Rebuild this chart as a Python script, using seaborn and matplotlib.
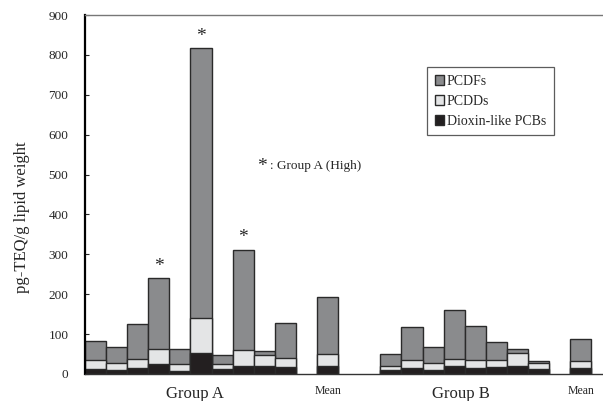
import numpy as np
import pandas as pd
import matplotlib.pyplot as plt
import seaborn as sns
from matplotlib.patches import Patch

# slot positions on the x axis (gaps between groups are empty slots)
positions = [0, 1, 2, 3, 4, 5, 6, 7, 8, 9, 11, 14, 15, 16, 17, 18, 19, 20, 21, 23]

# pg-TEQ/g lipid weight
pcbs = [12, 10, 14, 25, 7, 53, 12, 20, 20, 18, 20,
        9, 14, 9, 20, 16, 17, 21, 12, 14]
pcdds = [23, 17, 23, 38, 18, 87, 12, 39, 27, 23, 30,
         10, 21, 19, 18, 19, 18, 31, 16, 18]
pcdfs = [48, 41, 88, 177, 38, 678, 23, 253, 11, 87, 144,
         31, 82, 40, 122, 85, 44, 10, 5, 55]

high_bars = [3, 5, 7]  # Group A (High), marked with *

df = pd.DataFrame({"pos": positions, "PCBs": pcbs, "PCDDs": pcdds, "PCDFs": pcdfs})
df["lvl1"] = df["PCBs"]
df["lvl2"] = df["PCBs"] + df["PCDDs"]
df["lvl3"] = df["lvl2"] + df["PCDFs"]

sns.set_style("white")
plt.rcParams["font.family"] = ["Liberation Serif", "DejaVu Serif"]

col_f = "#8a8b8d"
col_d = "#e4e5e6"
col_b = "#231f20"
edge = "#2a2a2a"

fig = plt.figure(figsize=(6.03, 4.01), dpi=100)
ax = fig.add_axes([85 / 603, 1 - 374 / 401, 518 / 603, 359 / 401])

for col, c in [("lvl3", col_f), ("lvl2", col_d), ("lvl1", col_b)]:
    sns.barplot(data=df, x="pos", y=col, native_scale=True, color=c,
                edgecolor=edge, linewidth=1.0, width=1.0, saturation=1,
                errorbar=None, ax=ax)

ax.set_xlim(-0.5, 24.05)
ax.set_ylim(0, 900)
ax.set_yticks(range(0, 901, 100))
ax.set_xticks([])
ax.set_xlabel("")
ax.set_ylabel("pg-TEQ/g lipid weight", fontsize=12)
ax.yaxis.set_label_coords(-0.106, 0.437)
ax.tick_params(axis="y", direction="in", length=3, width=0.8, pad=12,
               labelsize=9.5, left=True)

for s in ["left", "bottom", "top"]:
    ax.spines[s].set_visible(True)
ax.spines["right"].set_visible(False)
ax.spines["left"].set_color("black")
ax.spines["left"].set_linewidth(1.6)
ax.spines["bottom"].set_color("#333333")
ax.spines["bottom"].set_linewidth(1.0)
ax.spines["top"].set_color("#777777")
ax.spines["top"].set_linewidth(1.0)

# asterisks over the high bars
for i in high_bars:
    ax.text(df["pos"][i], df["lvl3"][i] + 8, "*", ha="center", va="bottom",
            fontsize=14)

ax.text(7.9, 521, "*", ha="center", va="center", fontsize=14)
ax.text(8.25, 521, ": Group A (High)", ha="left", va="center", fontsize=9.5)

# group labels under the axis
lab_y = -0.055
ax.text(4.7, lab_y, "Group A", transform=ax.get_xaxis_transform(),
        ha="center", va="center", fontsize=12)
ax.text(11, lab_y + 0.008, "Mean", transform=ax.get_xaxis_transform(),
        ha="center", va="center", fontsize=8.5)
ax.text(17.3, lab_y, "Group B", transform=ax.get_xaxis_transform(),
        ha="center", va="center", fontsize=12)
ax.text(23, lab_y + 0.008, "Mean", transform=ax.get_xaxis_transform(),
        ha="center", va="center", fontsize=8.5)

handles = [Patch(facecolor=col_f, edgecolor=edge, label="PCDFs"),
           Patch(facecolor=col_d, edgecolor=edge, label="PCDDs"),
           Patch(facecolor=col_b, edgecolor=edge, label="Dioxin-like PCBs")]
leg = ax.legend(handles=handles, loc="upper left", bbox_to_anchor=(0.66, 0.855),
                frameon=True, fancybox=False, fontsize=10, handlelength=0.7,
                handleheight=0.7, handletextpad=0.2, labelspacing=0.5,
                borderpad=0.55, borderaxespad=0)
leg.get_frame().set_edgecolor("#333333")
leg.get_frame().set_linewidth(0.9)

fig.savefig("out.png", dpi=100)
